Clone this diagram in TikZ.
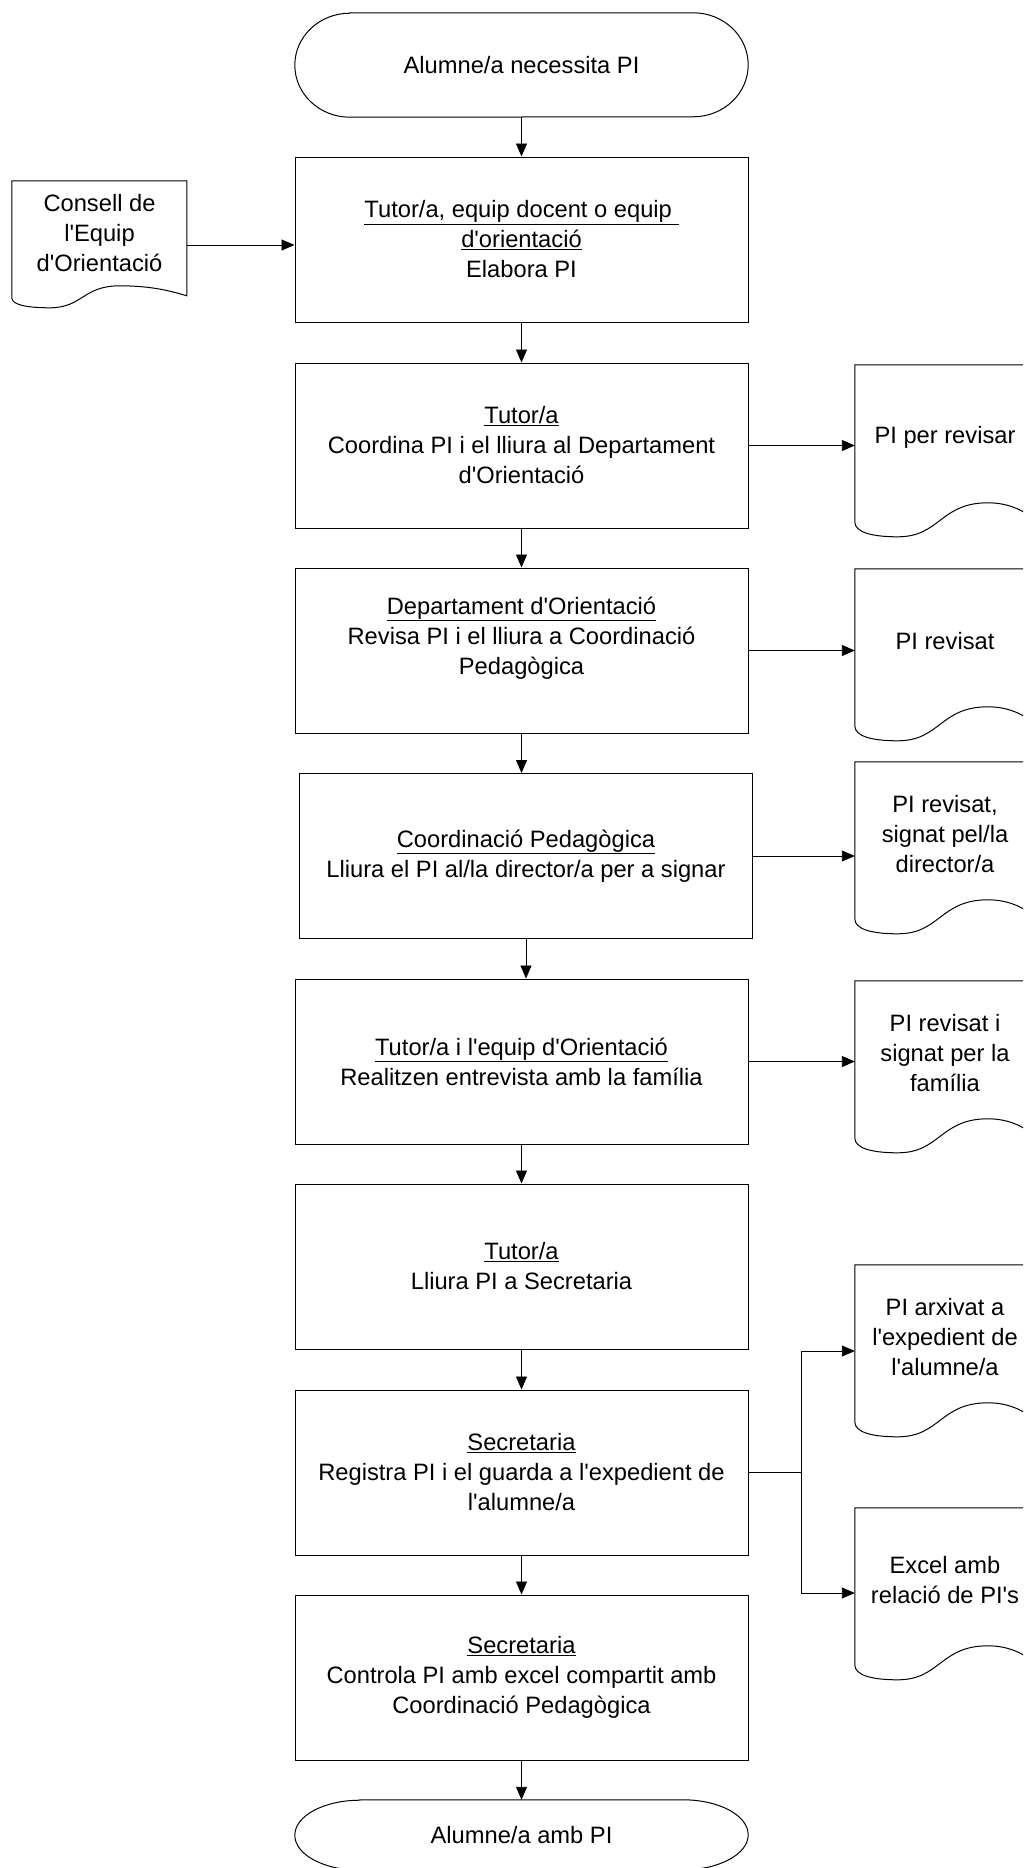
\documentclass[tikz,border=0pt]{standalone}
\usepackage{fontspec}
\setmainfont{Liberation Sans}[Ligatures=TeXOff]
\usetikzlibrary{arrows.meta,calc}
\newcommand\mydocshape[7]{% node, W, h, xmin, amin, xpeak, apeak
  \begin{scope}[shift={(#1.north west)}]
    \draw[line width=1pt] (0,0) -- (0,#3)
      .. controls (0,{#3+0.7*#5}) and ({0.4*#4},{#3+#5}) .. (#4,{#3+#5})
      .. controls ({#4+0.47*(#6-#4)},{#3+#5}) and ({#4+0.47*(#6-#4)},{#3-#7}) .. (#6,{#3-#7})
      .. controls ({#6+0.5*(#2-#6)},{#3-#7}) and ({#6+0.8*(#2-#6)},{#3-0.5*#7}) .. (#2,{#3-2})
      -- (#2,0) -- cycle;
  \end{scope}}
\newcommand\myterminal[3]{% node, rx, ry
  \draw[line width=1pt] ([xshift=#2pt]#1.north west) -- ([xshift=-#2pt]#1.north east)
    arc[start angle=90,end angle=-90,x radius=#2pt,y radius=#3pt]
    -- ([xshift=#2pt]#1.south west)
    arc[start angle=270,end angle=90,x radius=#2pt,y radius=#3pt] -- cycle;}
\begin{document}
\begin{tikzpicture}[x=1pt,y=-1pt,
  every node/.style={font=\fontsize{23.7}{30}\selectfont, align=center, inner sep=0pt},
  box/.style={draw, line width=1pt, minimum width=453pt, minimum height=165pt},
  term/.style={minimum width=453pt},
  rdoc/.style={minimum width=180pt, minimum height=144pt},
  arr/.style={line width=0.9pt, -{Triangle[length=13pt,width=11pt]}},
  ln/.style={line width=0.9pt}]
\fill[white] (0,0) rectangle (1023,1868);
\useasboundingbox (0,0) rectangle (1023,1868);
\clip (0,0) rectangle (1023,1868);

% terminals
\node[term, minimum height=104pt] (t1) at (521.5,65) {Alumne/a necessita PI};
\myterminal{t1}{55}{52}
\node[term, minimum height=70pt] (t2) at (521.5,1835) {Alumne/a amb PI};
\myterminal{t2}{65}{35}

% process boxes
\node[box] (b1) at (521.5,239.5) {\underline{Tutor/a, equip docent o equip\ }\\\underline{d'orientació}\\Elabora PI};
\node[box] (b2) at (521.5,445.5) {\underline{Tutor/a}\\Coordina PI i el lliura al Departament\\d'Orientació};
\node[box] (b3) at (521.5,650.5) {\underline{Departament d'Orientació}\\Revisa PI i el lliura a Coordinació\\Pedagògica\\\mbox{}};
\node[box] (b4) at (526,856) {\underline{Coordinació Pedagògica}\\Lliura el PI al/la director/a per a signar};
\node[box] (b5) at (521.5,1061.5) {\underline{Tutor/a i l'equip d'Orientació}\\Realitzen entrevista amb la família};
\node[box] (b6) at (521.5,1266.5) {\underline{Tutor/a}\\Lliura PI a Secretaria};
\node[box] (b7) at (521.5,1472.5) {\underline{Secretaria}\\Registra PI i el guarda a l'expedient de\\l'alumne/a};
\node[box] (b8) at (521.5,1677.5) {\underline{Secretaria}\\Controla PI amb excel compartit amb\\Coordinació Pedagògica};

% documents
\node[minimum width=175pt, minimum height=104pt] (c) at (99.5,233) {Consell de\\l'Equip\\d'Orientació};
\mydocshape{c}{175}{117}{38}{10}{108}{12}
\node[rdoc] (d1) at (945,437) {PI per revisar};
\mydocshape{d1}{180}{157}{43}{15}{133}{19}
\node[rdoc] (d2) at (945,641) {PI revisat};
\mydocshape{d2}{180}{157}{43}{15}{133}{19}
\node[rdoc] (d3) at (945,834) {PI revisat,\\signat pel/la\\director/a};
\mydocshape{d3}{180}{157}{43}{15}{133}{19}
\node[rdoc] (d4) at (945,1053) {PI revisat i\\signat per la\\família};
\mydocshape{d4}{180}{157}{43}{15}{133}{19}
\node[rdoc] (d5) at (945,1337) {PI arxivat a\\l'expedient de\\l'alumne/a};
\mydocshape{d5}{180}{157}{43}{15}{133}{19}
\node[rdoc] (d6) at (945,1580) {Excel amb\\relació de PI's};
\mydocshape{d6}{180}{157}{43}{15}{133}{19}

% main flow
\draw[arr] (t1.south) -- (b1.north);
\draw[arr] (b1.south) -- (b2.north);
\draw[arr] (b2.south) -- (b3.north);
\draw[arr] (b3.south) -- (b3.south |- b4.north);
\draw[arr] (b4.south) -- (b4.south |- b5.north);
\draw[arr] (b5.south) -- (b6.north);
\draw[arr] (b6.south) -- (b7.north);
\draw[arr] (b7.south) -- (b8.north);
\draw[arr] (b8.south) -- (t2.north);

% side flows
\draw[arr] ([yshift=-12pt]c.east) -- ([yshift=-12pt]c.east -| b1.west);
\draw[arr] (b2.east) -- (b2.east -| d1.west);
\draw[arr] (b3.east) -- (b3.east -| d2.west);
\draw[arr] (b4.east) -- (b4.east -| d3.west);
\draw[arr] (b5.east) -- (b5.east -| d4.west);
\coordinate (j) at ($(b7.east)+(53,0)$);
\draw[ln] (b7.east) -- (j);
\draw[arr] (j) |- ([yshift=-14pt]d5.west);
\draw[arr] (j) |- ([yshift=-13pt]d6.west);
\end{tikzpicture}
\end{document}
